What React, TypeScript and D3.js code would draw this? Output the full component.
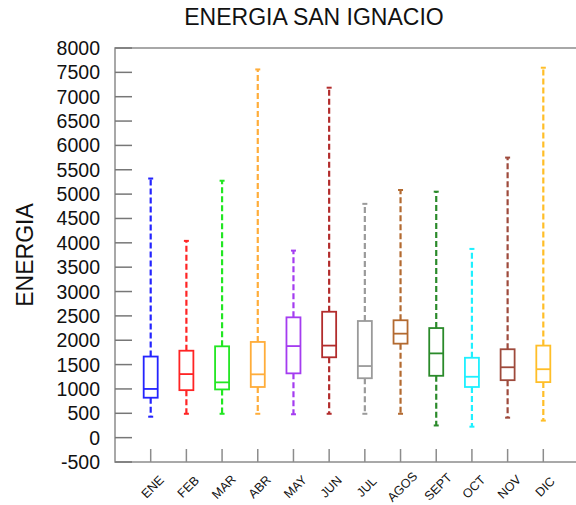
import React, { useEffect, useRef } from 'react';
import * as d3 from 'd3';

const months = ['ENE', 'FEB', 'MAR', 'ABR', 'MAY', 'JUN', 'JUL', 'AGOS', 'SEPT', 'OCT', 'NOV', 'DIC'];
const minValues = [430, 490, 490, 490, 480, 490, 490, 490, 250, 225, 410, 350];
const q1Values = [820, 975, 990, 1040, 1320, 1650, 1220, 1930, 1270, 1040, 1180, 1140];
const medianValues = [1000, 1305, 1135, 1300, 1880, 1890, 1470, 2135, 1730, 1250, 1445, 1405];
const q3Values = [1665, 1785, 1875, 1965, 2470, 2585, 2395, 2410, 2250, 1640, 1815, 1890];
const maxValues = [5320, 4040, 5275, 7560, 3840, 7185, 4800, 5085, 5050, 3875, 5750, 7595];
const yTicks = d3.range(-500, 8001, 500);

const colors = [
  '#2424ff', '#ff2424', '#22e622', '#ffad3a', '#a43cf0', '#b22c2c',
  '#9a9a9a', '#b36a30', '#2a8a2a', '#1ef0ff', '#9e4a3c', '#ffbe28',
];

const width = 576;
const height = 505;
const font = '"Liberation Sans", Arial, Helvetica, sans-serif';

const BoxPlot: React.FC = () => {
  const svgRef = useRef<SVGSVGElement>(null);

  useEffect(() => {
    if (!svgRef.current) return;
    const svg = d3.select(svgRef.current);
    svg.selectAll('*').remove();

    const left = 115;
    const top = 48;
    const bottom = 462;

    const x = d3.scaleLinear().domain([0, 13]).range([left, 579]);
    const y = d3.scaleLinear().domain([-500, 8000]).range([bottom, top]);

    const rows = months.map((m, i) => ({
      m,
      i: i + 1,
      lo: minValues[i],
      q1: q1Values[i],
      med: medianValues[i],
      q3: q3Values[i],
      hi: maxValues[i],
      color: colors[i],
    }));

    // title
    svg.append('text')
      .attr('x', 314)
      .attr('y', 25)
      .attr('text-anchor', 'middle')
      .style('font-family', font)
      .style('font-size', '23px')
      .attr('fill', '#111')
      .text('ENERGIA SAN IGNACIO');

    // y label
    svg.append('text')
      .attr('transform', 'translate(25,255) rotate(-90)')
      .attr('text-anchor', 'middle')
      .attr('dominant-baseline', 'central')
      .style('font-family', font)
      .style('font-size', '23px')
      .attr('fill', '#111')
      .text('ENERGIA');

    // frame
    const axisColor = '#8c8c8c';
    svg.append('rect')
      .attr('x', left)
      .attr('y', top)
      .attr('width', x(13) - left)
      .attr('height', bottom - top)
      .attr('fill', 'none')
      .attr('stroke', axisColor)
      .attr('stroke-width', 1.5);

    // y ticks + labels
    svg.selectAll('.ytick')
      .data(yTicks)
      .enter()
      .append('line')
      .attr('class', 'ytick')
      .attr('x1', left)
      .attr('x2', left + 17)
      .attr('y1', d => y(d))
      .attr('y2', d => y(d))
      .attr('stroke', '#777')
      .attr('stroke-width', 1.5);

    svg.selectAll('.ylab')
      .data(yTicks)
      .enter()
      .append('text')
      .attr('class', 'ylab')
      .attr('x', 100)
      .attr('y', d => y(d))
      .attr('text-anchor', 'end')
      .attr('dominant-baseline', 'central')
      .style('font-family', font)
      .style('font-size', '19.5px')
      .attr('fill', '#111')
      .text(d => String(d));

    // x ticks + labels
    svg.selectAll('.xtick')
      .data(rows)
      .enter()
      .append('line')
      .attr('class', 'xtick')
      .attr('x1', d => x(d.i))
      .attr('x2', d => x(d.i))
      .attr('y1', bottom)
      .attr('y2', bottom - 13)
      .attr('stroke', axisColor)
      .attr('stroke-width', 1.5);

    svg.selectAll('.xlab')
      .data(rows)
      .enter()
      .append('text')
      .attr('class', 'xlab')
      .attr('transform', d => `translate(${x(d.i) + 2},487) rotate(-45)`)
      .attr('text-anchor', 'middle')
      .attr('dominant-baseline', 'central')
      .style('font-family', font)
      .style('font-size', '12.5px')
      .attr('fill', '#111')
      .text(d => d.m);

    // boxes
    const boxW = 14;
    const g = svg.selectAll('.box')
      .data(rows)
      .enter()
      .append('g')
      .attr('class', 'box');

    // whiskers
    g.append('line')
      .attr('x1', d => x(d.i))
      .attr('x2', d => x(d.i))
      .attr('y1', d => y(d.q3))
      .attr('y2', d => y(d.hi))
      .attr('stroke', d => d.color)
      .attr('stroke-width', 2.2)
      .attr('stroke-dasharray', '6,3');

    g.append('line')
      .attr('x1', d => x(d.i))
      .attr('x2', d => x(d.i))
      .attr('y1', d => y(d.q1))
      .attr('y2', d => y(d.lo))
      .attr('stroke', d => d.color)
      .attr('stroke-width', 2.2)
      .attr('stroke-dasharray', '6,3');

    // whisker caps
    g.append('line')
      .attr('x1', d => x(d.i) - 2.5)
      .attr('x2', d => x(d.i) + 2.5)
      .attr('y1', d => y(d.hi))
      .attr('y2', d => y(d.hi))
      .attr('stroke', d => d.color)
      .attr('stroke-width', 2);

    g.append('line')
      .attr('x1', d => x(d.i) - 2.5)
      .attr('x2', d => x(d.i) + 2.5)
      .attr('y1', d => y(d.lo))
      .attr('y2', d => y(d.lo))
      .attr('stroke', d => d.color)
      .attr('stroke-width', 2);

    g.append('rect')
      .attr('x', d => x(d.i) - boxW / 2)
      .attr('y', d => y(d.q3))
      .attr('width', boxW)
      .attr('height', d => y(d.q1) - y(d.q3))
      .attr('fill', 'white')
      .attr('stroke', d => d.color)
      .attr('stroke-width', 1.8);

    g.append('line')
      .attr('x1', d => x(d.i) - boxW / 2)
      .attr('x2', d => x(d.i) + boxW / 2)
      .attr('y1', d => y(d.med))
      .attr('y2', d => y(d.med))
      .attr('stroke', d => d.color)
      .attr('stroke-width', 1.8);
  }, []);

  return (
    <svg
      ref={svgRef}
      width={width}
      height={height}
      style={{ position: 'absolute', left: 0, top: 0, background: 'white' }}
    />
  );
};

export default function App() {
  return <BoxPlot />;
}
